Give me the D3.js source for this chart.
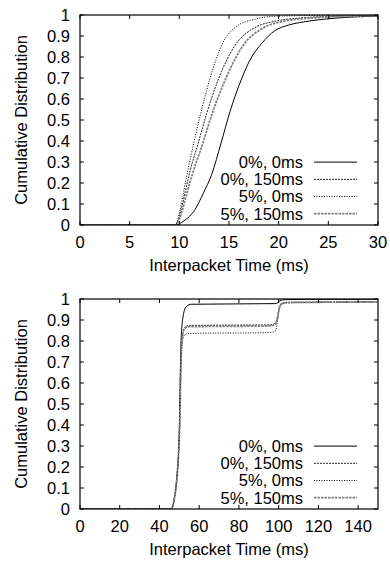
<!DOCTYPE html>
<html>
<head>
<meta charset="utf-8">
<script src="https://cdn.jsdelivr.net/npm/d3@7"></script>
<style>
  html, body { margin: 0; padding: 0; background: #fff; }
  text { font-family: "Liberation Sans", Arial, sans-serif; font-size: 16.5px; fill: #000; }
</style>
</head>
<body>
<div id="chart"></div>
<script>
// legend labels (same for both panels)
var seriesNames = ["0%, 0ms", "0%, 150ms", "5%, 0ms", "5%, 150ms"];
var yTicks = [0, 0.1, 0.2, 0.3, 0.4, 0.5, 0.6, 0.7, 0.8, 0.9, 1];

// top panel: [interpacket time (ms), cumulative fraction]
var topTicks = [0, 5, 10, 15, 20, 25, 30];
var top00 = [[0,0],[9.7,0],[10.3,0.015],[11,0.04],[11.6,0.075],[12.4,0.15],[13.25,0.24],[14.2,0.39],[15.1,0.54],[16.3,0.7],[17.1,0.785],[18.3,0.865],[19.6,0.925],[21,0.952],[22.5,0.967],[25.5,0.984],[30,0.995]];
var top0150 = [[0,0],[9.6,0],[9.85,0.02],[10.2,0.075],[10.6,0.16],[11.1,0.26],[11.9,0.39],[12.75,0.53],[13.9,0.69],[15.6,0.855],[17.6,0.94],[19.6,0.97],[22,0.985],[25,0.993],[30,0.998]];
var top50 = [[0,0],[9.6,0],[9.8,0.02],[10.07,0.071],[10.6,0.2],[11.4,0.38],[12.25,0.55],[13.1,0.7],[14.3,0.86],[15.6,0.94],[17.6,0.98],[20,0.995],[30,1]];
var top5150 = [[0,0],[9.6,0],[9.9,0.02],[10.3,0.07],[10.7,0.14],[11.3,0.24],[12.3,0.38],[13.3,0.53],[14.7,0.7],[16.5,0.86],[18.5,0.94],[20.5,0.97],[23,0.985],[30,0.997]];

// bottom panel
var bottomTicks = [0, 20, 40, 60, 80, 100, 120, 140];
var bot00 = [[0,0],[45.8,0],[46.6,0.01],[47.5,0.05],[48.2,0.1],[49,0.18],[49.5,0.25],[50,0.38],[50.4,0.6],[50.8,0.78],[51.3,0.87],[51.8,0.91],[52.5,0.945],[53.7,0.965],[56,0.975],[98,0.978],[99.5,0.982],[100.5,0.99],[102,0.996],[110,0.998],[150,0.999]];
var bot0150 = [[0,0],[45.8,0],[46.6,0.01],[47.5,0.05],[48.3,0.1],[49.2,0.2],[49.8,0.3],[50.3,0.45],[50.7,0.65],[51.1,0.78],[51.8,0.84],[52.8,0.866],[55,0.874],[96,0.877],[98.5,0.886],[99.5,0.92],[100.3,0.96],[101.5,0.978],[104,0.984],[150,0.987]];
var bot50 = [[0,0],[45.8,0],[46.6,0.01],[47.5,0.05],[48.3,0.1],[49.2,0.2],[49.8,0.3],[50.3,0.45],[50.7,0.63],[51.1,0.74],[51.6,0.8],[52.6,0.828],[55,0.836],[96,0.84],[98.5,0.85],[99.5,0.9],[100.4,0.955],[101.7,0.975],[104,0.982],[150,0.985]];
var bot5150 = [[0,0],[45.8,0],[46.6,0.01],[47.5,0.05],[48.3,0.1],[49.2,0.2],[49.8,0.3],[50.3,0.45],[50.7,0.64],[51.1,0.77],[51.7,0.83],[52.7,0.86],[55,0.868],[96,0.872],[98.5,0.882],[99.5,0.915],[100.3,0.958],[101.5,0.977],[104,0.983],[150,0.986]];

var width = 390, height = 561;
var margin = {left: 80, right: 12};
var plotH = 210;

// line look per series: solid, fine dash, dots, grey dash
var strokes = ["#000", "#222", "#000", "#808080"];
var dashes = [null, "2,1", "1,1.5", "2.5,1"];
var widths = [1, 1, 1, 1.8];

var svg = d3.select("#chart")
    .append("svg")
    .attr("width", width)
    .attr("height", height);

function drawPanel(top, xMax, xTicks, series, id) {
    var x = d3.scaleLinear().domain([0, xMax]).range([margin.left, width - margin.right]);
    var y = d3.scaleLinear().domain([0, 1]).range([top + plotH, top]);
    var g = svg.append("g");

    g.append("clipPath").attr("id", "clip" + id)
        .append("rect")
        .attr("x", x(0)).attr("y", y(1))
        .attr("width", x(xMax) - x(0)).attr("height", plotH);

    // curves
    var line = d3.line()
        .x(function (d) { return x(d[0]); })
        .y(function (d) { return y(d[1]); })
        .curve(d3.curveMonotoneX);

    series.forEach(function (s, i) {
        g.append("path")
            .datum(s)
            .attr("clip-path", "url(#clip" + id + ")")
            .attr("d", line)
            .attr("fill", "none")
            .attr("stroke", strokes[i])
            .attr("stroke-width", widths[i])
            .attr("stroke-dasharray", dashes[i]);
    });

    // inward ticks, mirrored on top and right (gnuplot style)
    var tl = 4;
    g.selectAll(".xt").data(xTicks).enter().append("path")
        .attr("d", function (d) {
            var px = x(d);
            return "M" + px + "," + y(0) + "v" + (-tl) + "M" + px + "," + y(1) + "v" + tl;
        })
        .attr("stroke", "#000");
    g.selectAll(".yt").data(yTicks).enter().append("path")
        .attr("d", function (d) {
            var py = y(d);
            return "M" + x(0) + "," + py + "h" + tl + "M" + x(xMax) + "," + py + "h" + (-tl);
        })
        .attr("stroke", "#000");

    // frame
    g.append("rect")
        .attr("x", x(0)).attr("y", y(1))
        .attr("width", x(xMax) - x(0)).attr("height", plotH)
        .attr("fill", "none")
        .attr("stroke", "#000")
        .attr("stroke-width", 1.2);

    // tick labels
    g.selectAll(".xl").data(xTicks).enter().append("text")
        .attr("x", function (d) { return x(d); })
        .attr("y", y(0) + 23)
        .attr("text-anchor", "middle")
        .text(function (d) { return d; });
    g.selectAll(".yl").data(yTicks).enter().append("text")
        .attr("x", x(0) - 10)
        .attr("y", function (d) { return y(d); })
        .attr("dy", "0.36em")
        .attr("text-anchor", "end")
        .text(function (d) { return d3.format("~g")(d); });

    // axis titles
    g.append("text")
        .attr("x", (x(0) + x(xMax)) / 2)
        .attr("y", y(0) + 46)
        .attr("text-anchor", "middle")
        .text("Interpacket Time (ms)");
    g.append("text")
        .attr("transform", "translate(27," + (top + plotH / 2) + ") rotate(-90)")
        .attr("text-anchor", "middle")
        .text("Cumulative Distribution");

    // key, no box
    var rowH = 17.2;
    var lastRow = y(0) - 11.3;
    seriesNames.forEach(function (name, i) {
        var ry = lastRow - (seriesNames.length - 1 - i) * rowH;
        g.append("text")
            .attr("x", 303)
            .attr("y", ry)
            .attr("dy", "0.36em")
            .attr("text-anchor", "end")
            .text(name);
        g.append("line")
            .attr("x1", 314).attr("x2", 357)
            .attr("y1", ry).attr("y2", ry)
            .attr("stroke", strokes[i])
            .attr("stroke-width", widths[i])
            .attr("stroke-dasharray", dashes[i]);
    });
}

drawPanel(15, 30, topTicks, [top00, top0150, top50, top5150], "a");
drawPanel(299, 150, bottomTicks, [bot00, bot0150, bot50, bot5150], "b");
</script>
</body>
</html>
